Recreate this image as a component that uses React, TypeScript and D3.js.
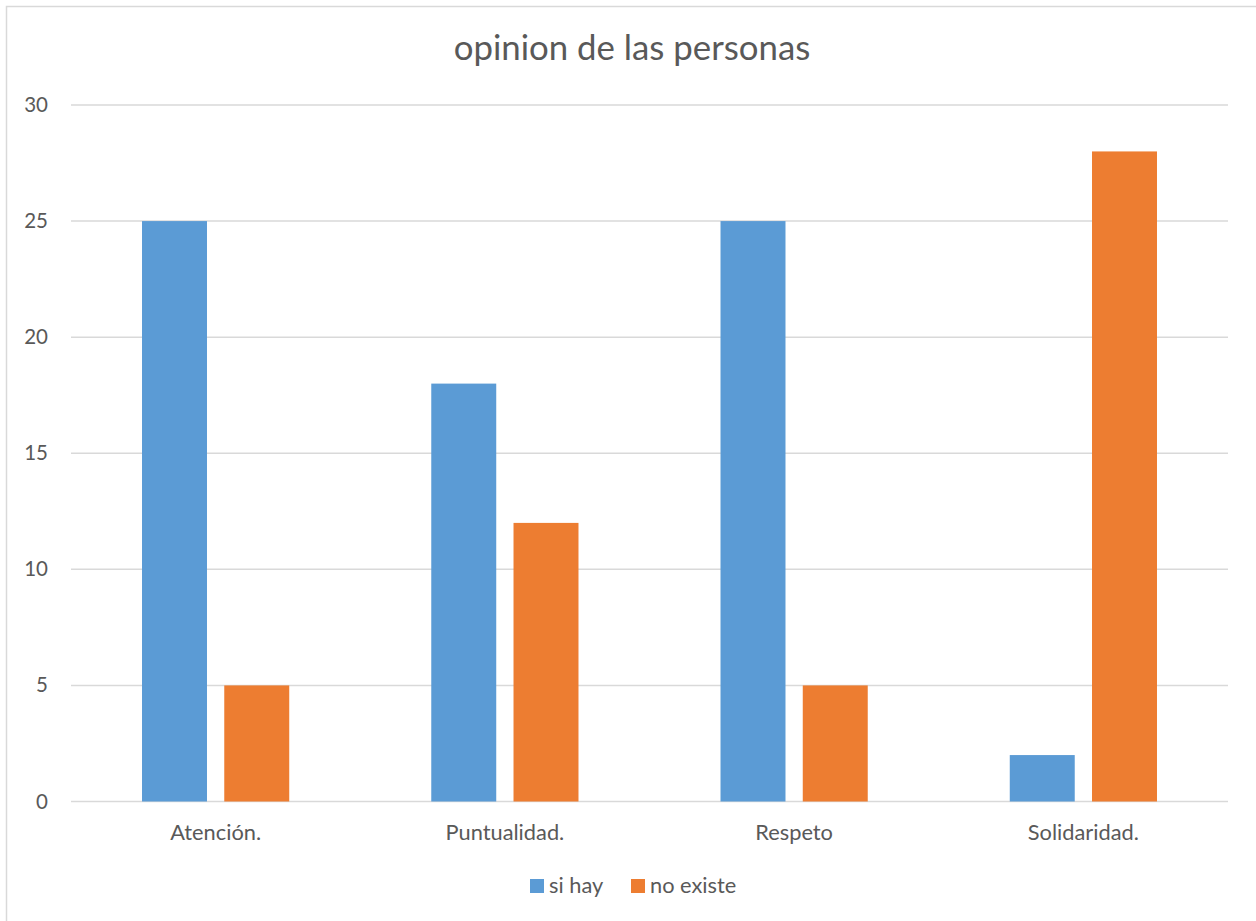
import React from "react";
import * as d3 from "d3";

const categories = ["Atención.", "Puntualidad.", "Respeto", "Solidaridad."];
const siHay = [25, 18, 25, 2];
const noExiste = [5, 12, 5, 28];
const seriesNames = ["si hay", "no existe"];
const seriesColors = ["#5B9BD5", "#ED7D31"];
const yTicks = [0, 5, 10, 15, 20, 25, 30];
const title = "opinion de las personas";

const W = 1256;
const H = 921;
const FONT = "Lato, 'Open Sans', sans-serif";
const TEXT = "#595959";

export default function App() {
  const left = 71;
  const right = 1228;
  const top = 105;
  const bottom = 801.5;

  const x = d3
    .scaleBand<string>()
    .domain(categories)
    .range([left, right])
    .paddingInner(0.491)
    .paddingOuter(0.2455);
  const xs = d3
    .scaleBand<string>()
    .domain(seriesNames)
    .range([0, x.bandwidth()])
    .paddingInner(0.21)
    .paddingOuter(0);
  const y = d3.scaleLinear().domain([0, 30]).range([bottom, top]);

  const data = [siHay, noExiste];

  const step = (right - left) / categories.length;

  return (
    <svg
      width={W}
      height={H}
      style={{ position: "absolute", left: 0, top: 0, background: "#fff" }}
    >
      <rect x={0} y={0} width={W} height={H} fill="#fff" />
      <rect
        x={6.5}
        y={6.5}
        width={W + 20}
        height={H + 20}
        fill="none"
        stroke="#d9d9d9"
        strokeWidth={1.5}
      />
      <text
        x={632}
        y={60}
        textAnchor="middle"
        fontFamily={FONT}
        fontSize={34.8}
        fill={TEXT}
      >
        {title}
      </text>
      {yTicks.map((t) => (
        <g key={t}>
          <line
            x1={left}
            x2={right}
            y1={y(t)}
            y2={y(t)}
            stroke="#d9d9d9"
            strokeWidth={1.5}
          />
          <text
            x={48}
            y={y(t) + 7}
            textAnchor="end"
            fontFamily={FONT}
            fontSize={20.5}
            fill={TEXT}
          >
            {t}
          </text>
        </g>
      ))}
      {data.map((vals, si) =>
        vals.map((v, ci) => (
          <rect
            key={`${si}-${ci}`}
            x={(x(categories[ci]) ?? 0) + (xs(seriesNames[si]) ?? 0)}
            y={y(v)}
            width={xs.bandwidth()}
            height={y(0) - y(v)}
            fill={seriesColors[si]}
          />
        ))
      )}
      {categories.map((c, i) => (
        <text
          key={c}
          x={left + step * (i + 0.5)}
          y={840}
          textAnchor="middle"
          fontFamily={FONT}
          fontSize={21.8}
          fill={TEXT}
        >
          {c}
        </text>
      ))}
      {seriesNames.map((s, i) => {
        const lx = [530, 631][i];
        return (
          <g key={s}>
            <rect x={lx} y={879} width={14} height={14} fill={seriesColors[i]} />
            <text
              x={lx + 19}
              y={893}
              fontFamily={FONT}
              fontSize={21.8}
              fill={TEXT}
            >
              {s}
            </text>
          </g>
        );
      })}
    </svg>
  );
}
